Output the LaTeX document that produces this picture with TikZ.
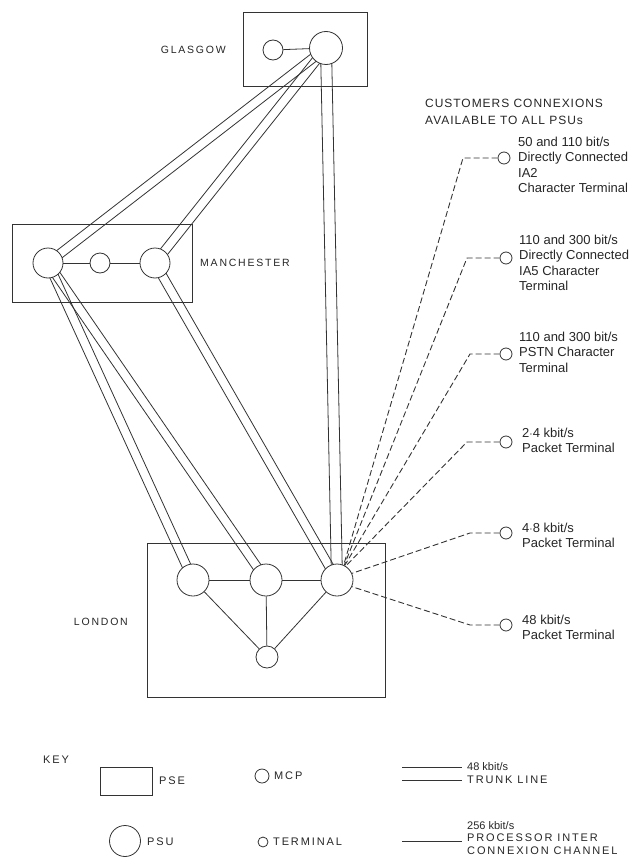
\documentclass[tikz,border=0pt]{standalone}
\usepackage{fontspec}
\setmainfont{Liberation Sans}
\newfontfamily\capsfont[LetterSpace=17]{Liberation Sans}
\newfontfamily\headfont[LetterSpace=8]{Liberation Sans}
\usetikzlibrary{calc,backgrounds}
\newcommand\trunkpair[3][4.5pt]{%
  \draw[ln] ($(#2.center)!#1!90:(#3.center)$) -- ($(#3.center)!#1!-90:(#2.center)$);
  \draw[ln] ($(#2.center)!#1!-90:(#3.center)$) -- ($(#3.center)!#1!90:(#2.center)$);}
\begin{document}
\begin{tikzpicture}[x=1pt,y=-1pt,
  ln/.style={line width=0.8pt, draw=black!80},
  psu/.style={circle, draw=black!80, line width=0.8pt, fill=white, minimum size=32pt, inner sep=0pt},
  mcp/.style={circle, draw=black!80, line width=0.8pt, fill=white, minimum size=20pt, inner sep=0pt},
  term/.style={circle, draw=black!80, line width=0.8pt, fill=white, minimum size=12pt, inner sep=0pt},
  pse/.style={rectangle, draw=black!80, line width=0.8pt, inner sep=0pt},
  lbl/.style={font=\fontsize{13}{15.2}\selectfont, align=left, inner sep=0pt, text=black!85},
  citytxt/.style={font=\capsfont\fontsize{10.5}{13}\selectfont, inner sep=0pt, text=black!85},
  headtxt/.style={font=\headfont\fontsize{12}{16.5}\selectfont, align=left, inner sep=0pt, text=black!85},
  keytxt/.style={font=\capsfont\fontsize{11}{12.8}\selectfont, align=left, inner sep=0pt, text=black!85},
  dsh/.style={line width=0.9pt, draw=black!80, dash pattern=on 6pt off 3pt},
]
\useasboundingbox (0,0) rectangle (638,864);
% PSE boxes
\node[pse, minimum width=124pt, minimum height=74pt] (gbox) at (305,49) {};
\node[pse, minimum width=180pt, minimum height=78pt] (mbox) at (102,263) {};
\node[pse, minimum width=238pt, minimum height=154pt] (lbox) at (266,620) {};
% Glasgow
\node[mcp] (gm) at (273,50) {};
\node[psu, minimum size=33pt] (gp) at (326,48) {};
% Manchester
\node[psu, minimum size=30pt] (m1) at (48,263) {};
\node[mcp] (mm) at (100,263) {};
\node[psu, minimum size=30pt] (m2) at (155,263) {};
% London
\node[psu] (l1) at (193,580) {};
\node[psu] (l2) at (266,580) {};
\node[psu] (l3) at (337,580) {};
\node[mcp, minimum size=22pt] (lb) at (267,657) {};
% city labels
\node[citytxt, anchor=east] (glab) at (226,50) {GLASGOW};
\node[citytxt, anchor=west] (mlab) at (200,263) {MANCHESTER};
\node[citytxt, anchor=east] (llab) at (128,622) {LONDON};
% local links
\draw[ln] (gm) -- (gp);
\draw[ln] (m1) -- (mm) -- (m2);
\draw[ln] (l1) -- (l2) -- (l3);
\draw[ln] (l1) -- (lb);
\draw[ln] (l2) -- (lb);
\draw[ln] (l3) -- (lb);
% terminals
\node[term] (t1) at (504,158) {};
\node[term] (t2) at (506,258) {};
\node[term] (t3) at (506,354) {};
\node[term] (t4) at (506,442) {};
\node[term] (t5) at (506,533) {};
\node[term] (t6) at (506,625) {};
\coordinate (b1) at (463,158);
\coordinate (b2) at (467,258);
\coordinate (b3) at (470,354);
\coordinate (b4) at (467,442);
\coordinate (b5) at (470,533);
\coordinate (b6) at (470,625);
\begin{scope}[on background layer]
  \trunkpair{gp}{m1}
  \trunkpair{gp}{m2}
  \trunkpair[5.5pt]{gp}{l3}
  \trunkpair{m1}{l1}
  \trunkpair{m1}{l2}
  \trunkpair{m2}{l3}
  \draw[dsh] (t1.west) -- (b1) -- (l3.66);
  \draw[dsh] (t2.west) -- (b2) -- (l3.64);
  \draw[dsh] (t3.west) -- (b3) -- (l3.62);
  \draw[dsh] (t4.west) -- (b4) -- (l3.58);
  \draw[dsh] (t5.west) -- (b5) -- (l3.24);
  \draw[dsh] (t6.west) -- (b6) -- (l3.-24);
\end{scope}
% terminal labels
\node[headtxt, anchor=north west] (head) at (425,99) {CUSTOMERS CONNEXIONS\\AVAILABLE TO ALL PSUs};
\node[lbl, anchor=north west] (tl1) at (518,137) {50 and 110 bit/s\\Directly Connected\\IA2\\Character Terminal};
\node[lbl, anchor=north west] (tl2) at (519,235) {110 and 300 bit/s\\Directly Connected\\IA5 Character\\Terminal};
\node[lbl, anchor=north west] (tl3) at (519,332) {110 and 300 bit/s\\PSTN Character\\Terminal};
\node[lbl, anchor=north west] (tl4) at (522,428) {2$\cdot$4 kbit/s\\Packet Terminal};
\node[lbl, anchor=north west] (tl5) at (522,523) {4$\cdot$8 kbit/s\\Packet Terminal};
\node[lbl, anchor=north west] (tl6) at (522,615) {48 kbit/s\\Packet Terminal};
% key
\node[keytxt, anchor=west] (key) at (43,760) {KEY};
\node[pse, minimum width=52pt, minimum height=28pt] (kbox) at (126,781) {};
\node[keytxt, anchor=west] (kboxl) at (159,781) {PSE};
\node[psu, minimum size=31pt] (kpsu) at (125,841) {};
\node[keytxt, anchor=west] (kpsul) at (147,842) {PSU};
\node[term, minimum size=14pt] (kmcp) at (262,776) {};
\node[keytxt, anchor=west] (kmcpl) at (274,776) {MCP};
\node[term, minimum size=10pt] (kterm) at (263,842) {};
\node[keytxt, anchor=west] (ktermi) at (273,842) {TERMINAL};
\coordinate (ka1) at (402,767);
\coordinate (ka2) at (462,767);
\coordinate (kb1) at (402,780);
\coordinate (kb2) at (462,780);
\coordinate (kc1) at (402,841);
\coordinate (kc2) at (462,841);
\draw[ln] (ka1) -- (ka2);
\draw[ln] (kb1) -- (kb2);
\draw[ln] (kc1) -- (kc2);
\node[keytxt, anchor=west] (ktrunk) at (467,773) {{\normalfont 48 kbit/s}\\TRUNK LINE};
\node[keytxt, anchor=west] (kpicc) at (467,838) {{\normalfont 256 kbit/s}\\PROCESSOR INTER\\CONNEXION CHANNEL};
\end{tikzpicture}
\end{document}
